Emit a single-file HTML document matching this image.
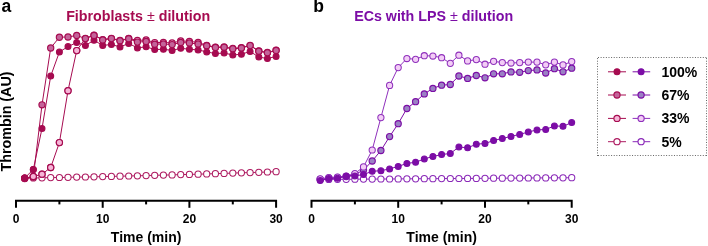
<!DOCTYPE html>
<html><head><meta charset="utf-8"><style>
html,body{margin:0;padding:0;background:#fff;width:708px;height:246px;overflow:hidden}
svg{display:block;will-change:transform}
text{font-family:"Liberation Sans",sans-serif;font-weight:bold}
.tk{font-size:12px;fill:#000}
.ax{font-size:14px;fill:#000}
.pl{font-size:17.5px;fill:#000}
.ti{font-size:14.25px}
.lg{font-size:14px;fill:#000}
</style></head><body>
<svg width="708" height="246" viewBox="0 0 708 246">
<path d="M16.0,207.8 V200.8 H276.1 V207.8" fill="none" stroke="#000" stroke-width="2"/>
<line x1="59.4" y1="200.8" x2="59.4" y2="204.4" stroke="#000" stroke-width="2"/><line x1="146.1" y1="200.8" x2="146.1" y2="204.4" stroke="#000" stroke-width="2"/><line x1="232.8" y1="200.8" x2="232.8" y2="204.4" stroke="#000" stroke-width="2"/><line x1="102.7" y1="200.8" x2="102.7" y2="207.8" stroke="#000" stroke-width="2"/><line x1="189.4" y1="200.8" x2="189.4" y2="207.8" stroke="#000" stroke-width="2"/>
<text x="16.0" y="222.6" text-anchor="middle" class="tk">0</text><text x="102.7" y="222.6" text-anchor="middle" class="tk">10</text><text x="189.4" y="222.6" text-anchor="middle" class="tk">20</text><text x="276.1" y="222.6" text-anchor="middle" class="tk">30</text><text x="146.1" y="241.6" text-anchor="middle" class="ax">Time (min)</text>
<path d="M311.5,207.8 V200.8 H571.7 V207.8" fill="none" stroke="#000" stroke-width="2"/>
<line x1="354.9" y1="200.8" x2="354.9" y2="204.4" stroke="#000" stroke-width="2"/><line x1="441.6" y1="200.8" x2="441.6" y2="204.4" stroke="#000" stroke-width="2"/><line x1="528.3" y1="200.8" x2="528.3" y2="204.4" stroke="#000" stroke-width="2"/><line x1="398.2" y1="200.8" x2="398.2" y2="207.8" stroke="#000" stroke-width="2"/><line x1="485.0" y1="200.8" x2="485.0" y2="207.8" stroke="#000" stroke-width="2"/>
<text x="311.5" y="222.6" text-anchor="middle" class="tk">0</text><text x="398.2" y="222.6" text-anchor="middle" class="tk">10</text><text x="485.0" y="222.6" text-anchor="middle" class="tk">20</text><text x="571.7" y="222.6" text-anchor="middle" class="tk">30</text><text x="441.6" y="241.6" text-anchor="middle" class="ax">Time (min)</text>
<text x="1.6" y="11.6" class="pl">a</text><text x="313.2" y="11.8" class="pl">b</text><text x="138.15" y="20.8" text-anchor="middle" class="ti" fill="#a60b50">Fibroblasts <tspan font-weight="normal">±</tspan> dilution</text><text x="433.65" y="20.9" text-anchor="middle" class="ti" fill="#7c0da6">ECs with LPS <tspan font-weight="normal">±</tspan> dilution</text><text transform="translate(10.7,121.5) rotate(-90)" text-anchor="middle" class="ax" style="font-size:14.3px">Thrombin (AU)</text><polyline points="24.7,178.1 33.3,178.0 42.0,177.8 50.7,177.6 59.4,177.5 68.0,177.3 76.7,177.1 85.4,177.0 94.0,176.8 102.7,176.6 111.4,176.4 120.0,176.2 128.7,176.0 137.4,175.8 146.1,175.6 154.7,175.3 163.4,175.1 172.1,174.9 180.7,174.6 189.4,174.4 198.1,174.2 206.7,173.9 215.4,173.7 224.1,173.4 232.8,173.1 241.4,172.8 250.1,172.6 258.8,172.3 267.4,172.0 276.1,171.7" fill="none" stroke="#ad1a60" stroke-width="1.0"/>
<circle cx="24.7" cy="178.1" r="3.1" fill="#fff" stroke="#ad1a60" stroke-width="1.05"/><circle cx="33.3" cy="178.0" r="3.1" fill="#fff" stroke="#ad1a60" stroke-width="1.05"/><circle cx="42.0" cy="177.8" r="3.1" fill="#fff" stroke="#ad1a60" stroke-width="1.05"/><circle cx="50.7" cy="177.6" r="3.1" fill="#fff" stroke="#ad1a60" stroke-width="1.05"/><circle cx="59.4" cy="177.5" r="3.1" fill="#fff" stroke="#ad1a60" stroke-width="1.05"/><circle cx="68.0" cy="177.3" r="3.1" fill="#fff" stroke="#ad1a60" stroke-width="1.05"/><circle cx="76.7" cy="177.1" r="3.1" fill="#fff" stroke="#ad1a60" stroke-width="1.05"/><circle cx="85.4" cy="177.0" r="3.1" fill="#fff" stroke="#ad1a60" stroke-width="1.05"/><circle cx="94.0" cy="176.8" r="3.1" fill="#fff" stroke="#ad1a60" stroke-width="1.05"/><circle cx="102.7" cy="176.6" r="3.1" fill="#fff" stroke="#ad1a60" stroke-width="1.05"/><circle cx="111.4" cy="176.4" r="3.1" fill="#fff" stroke="#ad1a60" stroke-width="1.05"/><circle cx="120.0" cy="176.2" r="3.1" fill="#fff" stroke="#ad1a60" stroke-width="1.05"/><circle cx="128.7" cy="176.0" r="3.1" fill="#fff" stroke="#ad1a60" stroke-width="1.05"/><circle cx="137.4" cy="175.8" r="3.1" fill="#fff" stroke="#ad1a60" stroke-width="1.05"/><circle cx="146.1" cy="175.6" r="3.1" fill="#fff" stroke="#ad1a60" stroke-width="1.05"/><circle cx="154.7" cy="175.3" r="3.1" fill="#fff" stroke="#ad1a60" stroke-width="1.05"/><circle cx="163.4" cy="175.1" r="3.1" fill="#fff" stroke="#ad1a60" stroke-width="1.05"/><circle cx="172.1" cy="174.9" r="3.1" fill="#fff" stroke="#ad1a60" stroke-width="1.05"/><circle cx="180.7" cy="174.6" r="3.1" fill="#fff" stroke="#ad1a60" stroke-width="1.05"/><circle cx="189.4" cy="174.4" r="3.1" fill="#fff" stroke="#ad1a60" stroke-width="1.05"/><circle cx="198.1" cy="174.2" r="3.1" fill="#fff" stroke="#ad1a60" stroke-width="1.05"/><circle cx="206.7" cy="173.9" r="3.1" fill="#fff" stroke="#ad1a60" stroke-width="1.05"/><circle cx="215.4" cy="173.7" r="3.1" fill="#fff" stroke="#ad1a60" stroke-width="1.05"/><circle cx="224.1" cy="173.4" r="3.1" fill="#fff" stroke="#ad1a60" stroke-width="1.05"/><circle cx="232.8" cy="173.1" r="3.1" fill="#fff" stroke="#ad1a60" stroke-width="1.05"/><circle cx="241.4" cy="172.8" r="3.1" fill="#fff" stroke="#ad1a60" stroke-width="1.05"/><circle cx="250.1" cy="172.6" r="3.1" fill="#fff" stroke="#ad1a60" stroke-width="1.05"/><circle cx="258.8" cy="172.3" r="3.1" fill="#fff" stroke="#ad1a60" stroke-width="1.05"/><circle cx="267.4" cy="172.0" r="3.1" fill="#fff" stroke="#ad1a60" stroke-width="1.05"/><circle cx="276.1" cy="171.7" r="3.1" fill="#fff" stroke="#ad1a60" stroke-width="1.05"/>
<polyline points="24.7,178.0 33.3,169.5 42.0,128.5 50.7,76.1 59.4,52.0 68.0,46.6 76.7,42.5 85.4,45.5 94.0,40.2 102.7,45.5 111.4,44.4 120.0,47.0 128.7,43.4 137.4,47.9 146.1,46.8 154.7,49.5 163.4,49.3 172.1,50.4 180.7,48.3 189.4,49.3 198.1,49.9 206.7,51.9 215.4,53.6 224.1,53.0 232.8,55.0 241.4,54.2 250.1,51.5 258.8,57.0 267.4,58.6 276.1,56.4" fill="none" stroke="#a60b50" stroke-width="1.0"/>
<circle cx="24.7" cy="178.0" r="2.95" fill="#a60b50" stroke="#a60b50" stroke-width="1.1"/><circle cx="33.3" cy="169.5" r="2.95" fill="#a60b50" stroke="#a60b50" stroke-width="1.1"/><circle cx="42.0" cy="128.5" r="2.95" fill="#a60b50" stroke="#a60b50" stroke-width="1.1"/><circle cx="50.7" cy="76.1" r="2.95" fill="#a60b50" stroke="#a60b50" stroke-width="1.1"/><circle cx="59.4" cy="52.0" r="2.95" fill="#a60b50" stroke="#a60b50" stroke-width="1.1"/><circle cx="68.0" cy="46.6" r="2.95" fill="#a60b50" stroke="#a60b50" stroke-width="1.1"/><circle cx="76.7" cy="42.5" r="2.95" fill="#a60b50" stroke="#a60b50" stroke-width="1.1"/><circle cx="85.4" cy="45.5" r="2.95" fill="#a60b50" stroke="#a60b50" stroke-width="1.1"/><circle cx="94.0" cy="40.2" r="2.95" fill="#a60b50" stroke="#a60b50" stroke-width="1.1"/><circle cx="102.7" cy="45.5" r="2.95" fill="#a60b50" stroke="#a60b50" stroke-width="1.1"/><circle cx="111.4" cy="44.4" r="2.95" fill="#a60b50" stroke="#a60b50" stroke-width="1.1"/><circle cx="120.0" cy="47.0" r="2.95" fill="#a60b50" stroke="#a60b50" stroke-width="1.1"/><circle cx="128.7" cy="43.4" r="2.95" fill="#a60b50" stroke="#a60b50" stroke-width="1.1"/><circle cx="137.4" cy="47.9" r="2.95" fill="#a60b50" stroke="#a60b50" stroke-width="1.1"/><circle cx="146.1" cy="46.8" r="2.95" fill="#a60b50" stroke="#a60b50" stroke-width="1.1"/><circle cx="154.7" cy="49.5" r="2.95" fill="#a60b50" stroke="#a60b50" stroke-width="1.1"/><circle cx="163.4" cy="49.3" r="2.95" fill="#a60b50" stroke="#a60b50" stroke-width="1.1"/><circle cx="172.1" cy="50.4" r="2.95" fill="#a60b50" stroke="#a60b50" stroke-width="1.1"/><circle cx="180.7" cy="48.3" r="2.95" fill="#a60b50" stroke="#a60b50" stroke-width="1.1"/><circle cx="189.4" cy="49.3" r="2.95" fill="#a60b50" stroke="#a60b50" stroke-width="1.1"/><circle cx="198.1" cy="49.9" r="2.95" fill="#a60b50" stroke="#a60b50" stroke-width="1.1"/><circle cx="206.7" cy="51.9" r="2.95" fill="#a60b50" stroke="#a60b50" stroke-width="1.1"/><circle cx="215.4" cy="53.6" r="2.95" fill="#a60b50" stroke="#a60b50" stroke-width="1.1"/><circle cx="224.1" cy="53.0" r="2.95" fill="#a60b50" stroke="#a60b50" stroke-width="1.1"/><circle cx="232.8" cy="55.0" r="2.95" fill="#a60b50" stroke="#a60b50" stroke-width="1.1"/><circle cx="241.4" cy="54.2" r="2.95" fill="#a60b50" stroke="#a60b50" stroke-width="1.1"/><circle cx="250.1" cy="51.5" r="2.95" fill="#a60b50" stroke="#a60b50" stroke-width="1.1"/><circle cx="258.8" cy="57.0" r="2.95" fill="#a60b50" stroke="#a60b50" stroke-width="1.1"/><circle cx="267.4" cy="58.6" r="2.95" fill="#a60b50" stroke="#a60b50" stroke-width="1.1"/><circle cx="276.1" cy="56.4" r="2.95" fill="#a60b50" stroke="#a60b50" stroke-width="1.1"/>
<polyline points="24.7,178.5 33.3,176.5 42.0,174.2 50.7,167.5 59.4,142.6 68.0,90.7 76.7,50.6 85.4,38.3 94.0,35.1 102.7,39.6 111.4,38.3 120.0,40.4 128.7,38.4 137.4,40.5 146.1,39.9 154.7,42.6 163.4,42.4 172.1,43.0 180.7,40.9 189.4,41.4 198.1,42.4 206.7,45.4 215.4,47.1 224.1,47.0 232.8,48.5 241.4,47.7 250.1,45.3 258.8,50.9 267.4,52.5 276.1,50.2" fill="none" stroke="#a60b50" stroke-width="1.0"/>
<circle cx="24.7" cy="178.5" r="3.1" fill="#f6b5d7" stroke="#a60b50" stroke-width="1.15"/><circle cx="33.3" cy="176.5" r="3.1" fill="#f6b5d7" stroke="#a60b50" stroke-width="1.15"/><circle cx="42.0" cy="174.2" r="3.1" fill="#f6b5d7" stroke="#a60b50" stroke-width="1.15"/><circle cx="50.7" cy="167.5" r="3.1" fill="#f6b5d7" stroke="#a60b50" stroke-width="1.15"/><circle cx="59.4" cy="142.6" r="3.1" fill="#f6b5d7" stroke="#a60b50" stroke-width="1.15"/><circle cx="68.0" cy="90.7" r="3.1" fill="#f6b5d7" stroke="#a60b50" stroke-width="1.15"/><circle cx="76.7" cy="50.6" r="3.1" fill="#f6b5d7" stroke="#a60b50" stroke-width="1.15"/><circle cx="85.4" cy="38.3" r="3.1" fill="#f6b5d7" stroke="#a60b50" stroke-width="1.15"/><circle cx="94.0" cy="35.1" r="3.1" fill="#f6b5d7" stroke="#a60b50" stroke-width="1.15"/><circle cx="102.7" cy="39.6" r="3.1" fill="#f6b5d7" stroke="#a60b50" stroke-width="1.15"/><circle cx="111.4" cy="38.3" r="3.1" fill="#f6b5d7" stroke="#a60b50" stroke-width="1.15"/><circle cx="120.0" cy="40.4" r="3.1" fill="#f6b5d7" stroke="#a60b50" stroke-width="1.15"/><circle cx="128.7" cy="38.4" r="3.1" fill="#f6b5d7" stroke="#a60b50" stroke-width="1.15"/><circle cx="137.4" cy="40.5" r="3.1" fill="#f6b5d7" stroke="#a60b50" stroke-width="1.15"/><circle cx="146.1" cy="39.9" r="3.1" fill="#f6b5d7" stroke="#a60b50" stroke-width="1.15"/><circle cx="154.7" cy="42.6" r="3.1" fill="#f6b5d7" stroke="#a60b50" stroke-width="1.15"/><circle cx="163.4" cy="42.4" r="3.1" fill="#f6b5d7" stroke="#a60b50" stroke-width="1.15"/><circle cx="172.1" cy="43.0" r="3.1" fill="#f6b5d7" stroke="#a60b50" stroke-width="1.15"/><circle cx="180.7" cy="40.9" r="3.1" fill="#f6b5d7" stroke="#a60b50" stroke-width="1.15"/><circle cx="189.4" cy="41.4" r="3.1" fill="#f6b5d7" stroke="#a60b50" stroke-width="1.15"/><circle cx="198.1" cy="42.4" r="3.1" fill="#f6b5d7" stroke="#a60b50" stroke-width="1.15"/><circle cx="206.7" cy="45.4" r="3.1" fill="#f6b5d7" stroke="#a60b50" stroke-width="1.15"/><circle cx="215.4" cy="47.1" r="3.1" fill="#f6b5d7" stroke="#a60b50" stroke-width="1.15"/><circle cx="224.1" cy="47.0" r="3.1" fill="#f6b5d7" stroke="#a60b50" stroke-width="1.15"/><circle cx="232.8" cy="48.5" r="3.1" fill="#f6b5d7" stroke="#a60b50" stroke-width="1.15"/><circle cx="241.4" cy="47.7" r="3.1" fill="#f6b5d7" stroke="#a60b50" stroke-width="1.15"/><circle cx="250.1" cy="45.3" r="3.1" fill="#f6b5d7" stroke="#a60b50" stroke-width="1.15"/><circle cx="258.8" cy="50.9" r="3.1" fill="#f6b5d7" stroke="#a60b50" stroke-width="1.15"/><circle cx="267.4" cy="52.5" r="3.1" fill="#f6b5d7" stroke="#a60b50" stroke-width="1.15"/><circle cx="276.1" cy="50.2" r="3.1" fill="#f6b5d7" stroke="#a60b50" stroke-width="1.15"/>
<polyline points="24.7,178.3 33.3,177.0 42.0,104.8 50.7,48.0 59.4,37.2 68.0,37.0 76.7,35.4 85.4,38.6 94.0,35.4 102.7,39.9 111.4,38.6 120.0,40.7 128.7,38.7 137.4,42.1 146.1,41.5 154.7,44.2 163.4,44.0 172.1,44.6 180.7,42.5 189.4,43.0 198.1,44.0 206.7,45.7 215.4,47.4 224.1,47.3 232.8,48.8 241.4,48.0 250.1,45.6 258.8,51.2 267.4,52.8 276.1,50.5" fill="none" stroke="#a60b50" stroke-width="1.0"/>
<circle cx="24.7" cy="178.3" r="3.1" fill="#c4649a" stroke="#a60b50" stroke-width="1.15"/><circle cx="33.3" cy="177.0" r="3.1" fill="#c4649a" stroke="#a60b50" stroke-width="1.15"/><circle cx="42.0" cy="104.8" r="3.1" fill="#c4649a" stroke="#a60b50" stroke-width="1.15"/><circle cx="50.7" cy="48.0" r="3.1" fill="#c4649a" stroke="#a60b50" stroke-width="1.15"/><circle cx="59.4" cy="37.2" r="3.1" fill="#c4649a" stroke="#a60b50" stroke-width="1.15"/><circle cx="68.0" cy="37.0" r="3.1" fill="#c4649a" stroke="#a60b50" stroke-width="1.15"/><circle cx="76.7" cy="35.4" r="3.1" fill="#c4649a" stroke="#a60b50" stroke-width="1.15"/><circle cx="85.4" cy="38.6" r="3.1" fill="#c4649a" stroke="#a60b50" stroke-width="1.15"/><circle cx="94.0" cy="35.4" r="3.1" fill="#c4649a" stroke="#a60b50" stroke-width="1.15"/><circle cx="102.7" cy="39.9" r="3.1" fill="#c4649a" stroke="#a60b50" stroke-width="1.15"/><circle cx="111.4" cy="38.6" r="3.1" fill="#c4649a" stroke="#a60b50" stroke-width="1.15"/><circle cx="120.0" cy="40.7" r="3.1" fill="#c4649a" stroke="#a60b50" stroke-width="1.15"/><circle cx="128.7" cy="38.7" r="3.1" fill="#c4649a" stroke="#a60b50" stroke-width="1.15"/><circle cx="137.4" cy="42.1" r="3.1" fill="#c4649a" stroke="#a60b50" stroke-width="1.15"/><circle cx="146.1" cy="41.5" r="3.1" fill="#c4649a" stroke="#a60b50" stroke-width="1.15"/><circle cx="154.7" cy="44.2" r="3.1" fill="#c4649a" stroke="#a60b50" stroke-width="1.15"/><circle cx="163.4" cy="44.0" r="3.1" fill="#c4649a" stroke="#a60b50" stroke-width="1.15"/><circle cx="172.1" cy="44.6" r="3.1" fill="#c4649a" stroke="#a60b50" stroke-width="1.15"/><circle cx="180.7" cy="42.5" r="3.1" fill="#c4649a" stroke="#a60b50" stroke-width="1.15"/><circle cx="189.4" cy="43.0" r="3.1" fill="#c4649a" stroke="#a60b50" stroke-width="1.15"/><circle cx="198.1" cy="44.0" r="3.1" fill="#c4649a" stroke="#a60b50" stroke-width="1.15"/><circle cx="206.7" cy="45.7" r="3.1" fill="#c4649a" stroke="#a60b50" stroke-width="1.15"/><circle cx="215.4" cy="47.4" r="3.1" fill="#c4649a" stroke="#a60b50" stroke-width="1.15"/><circle cx="224.1" cy="47.3" r="3.1" fill="#c4649a" stroke="#a60b50" stroke-width="1.15"/><circle cx="232.8" cy="48.8" r="3.1" fill="#c4649a" stroke="#a60b50" stroke-width="1.15"/><circle cx="241.4" cy="48.0" r="3.1" fill="#c4649a" stroke="#a60b50" stroke-width="1.15"/><circle cx="250.1" cy="45.6" r="3.1" fill="#c4649a" stroke="#a60b50" stroke-width="1.15"/><circle cx="258.8" cy="51.2" r="3.1" fill="#c4649a" stroke="#a60b50" stroke-width="1.15"/><circle cx="267.4" cy="52.8" r="3.1" fill="#c4649a" stroke="#a60b50" stroke-width="1.15"/><circle cx="276.1" cy="50.5" r="3.1" fill="#c4649a" stroke="#a60b50" stroke-width="1.15"/>
<circle cx="24.7" cy="178.0" r="2.95" fill="#a60b50" stroke="#a60b50" stroke-width="1.1"/><circle cx="33.3" cy="169.5" r="2.95" fill="#a60b50" stroke="#a60b50" stroke-width="1.1"/><circle cx="33.3" cy="176.5" r="3.1" fill="#f6b5d7" stroke="#a60b50" stroke-width="1.15"/><circle cx="42.0" cy="174.2" r="3.1" fill="#f6b5d7" stroke="#a60b50" stroke-width="1.15"/><circle cx="50.7" cy="167.5" r="3.1" fill="#f6b5d7" stroke="#a60b50" stroke-width="1.15"/><circle cx="59.4" cy="142.6" r="3.1" fill="#f6b5d7" stroke="#a60b50" stroke-width="1.15"/><circle cx="68.0" cy="90.7" r="3.1" fill="#f6b5d7" stroke="#a60b50" stroke-width="1.15"/><circle cx="76.7" cy="50.6" r="3.1" fill="#f6b5d7" stroke="#a60b50" stroke-width="1.15"/>
<polyline points="320.2,179.4 328.8,179.4 337.5,179.3 346.2,179.3 354.9,179.2 363.5,179.1 372.2,179.1 380.9,179.0 389.6,179.0 398.2,178.9 406.9,178.8 415.6,178.8 424.3,178.7 432.9,178.7 441.6,178.6 450.3,178.5 458.9,178.5 467.6,178.4 476.3,178.4 485.0,178.3 493.6,178.2 502.3,178.2 511.0,178.1 519.7,178.1 528.3,178.0 537.0,177.9 545.7,177.9 554.4,177.8 563.0,177.8 571.7,177.7" fill="none" stroke="#8a28b8" stroke-width="1.0"/>
<circle cx="320.2" cy="179.4" r="3.1" fill="#fff" stroke="#8a28b8" stroke-width="1.05"/><circle cx="328.8" cy="179.4" r="3.1" fill="#fff" stroke="#8a28b8" stroke-width="1.05"/><circle cx="337.5" cy="179.3" r="3.1" fill="#fff" stroke="#8a28b8" stroke-width="1.05"/><circle cx="346.2" cy="179.3" r="3.1" fill="#fff" stroke="#8a28b8" stroke-width="1.05"/><circle cx="354.9" cy="179.2" r="3.1" fill="#fff" stroke="#8a28b8" stroke-width="1.05"/><circle cx="363.5" cy="179.1" r="3.1" fill="#fff" stroke="#8a28b8" stroke-width="1.05"/><circle cx="372.2" cy="179.1" r="3.1" fill="#fff" stroke="#8a28b8" stroke-width="1.05"/><circle cx="380.9" cy="179.0" r="3.1" fill="#fff" stroke="#8a28b8" stroke-width="1.05"/><circle cx="389.6" cy="179.0" r="3.1" fill="#fff" stroke="#8a28b8" stroke-width="1.05"/><circle cx="398.2" cy="178.9" r="3.1" fill="#fff" stroke="#8a28b8" stroke-width="1.05"/><circle cx="406.9" cy="178.8" r="3.1" fill="#fff" stroke="#8a28b8" stroke-width="1.05"/><circle cx="415.6" cy="178.8" r="3.1" fill="#fff" stroke="#8a28b8" stroke-width="1.05"/><circle cx="424.3" cy="178.7" r="3.1" fill="#fff" stroke="#8a28b8" stroke-width="1.05"/><circle cx="432.9" cy="178.7" r="3.1" fill="#fff" stroke="#8a28b8" stroke-width="1.05"/><circle cx="441.6" cy="178.6" r="3.1" fill="#fff" stroke="#8a28b8" stroke-width="1.05"/><circle cx="450.3" cy="178.5" r="3.1" fill="#fff" stroke="#8a28b8" stroke-width="1.05"/><circle cx="458.9" cy="178.5" r="3.1" fill="#fff" stroke="#8a28b8" stroke-width="1.05"/><circle cx="467.6" cy="178.4" r="3.1" fill="#fff" stroke="#8a28b8" stroke-width="1.05"/><circle cx="476.3" cy="178.4" r="3.1" fill="#fff" stroke="#8a28b8" stroke-width="1.05"/><circle cx="485.0" cy="178.3" r="3.1" fill="#fff" stroke="#8a28b8" stroke-width="1.05"/><circle cx="493.6" cy="178.2" r="3.1" fill="#fff" stroke="#8a28b8" stroke-width="1.05"/><circle cx="502.3" cy="178.2" r="3.1" fill="#fff" stroke="#8a28b8" stroke-width="1.05"/><circle cx="511.0" cy="178.1" r="3.1" fill="#fff" stroke="#8a28b8" stroke-width="1.05"/><circle cx="519.7" cy="178.1" r="3.1" fill="#fff" stroke="#8a28b8" stroke-width="1.05"/><circle cx="528.3" cy="178.0" r="3.1" fill="#fff" stroke="#8a28b8" stroke-width="1.05"/><circle cx="537.0" cy="177.9" r="3.1" fill="#fff" stroke="#8a28b8" stroke-width="1.05"/><circle cx="545.7" cy="177.9" r="3.1" fill="#fff" stroke="#8a28b8" stroke-width="1.05"/><circle cx="554.4" cy="177.8" r="3.1" fill="#fff" stroke="#8a28b8" stroke-width="1.05"/><circle cx="563.0" cy="177.8" r="3.1" fill="#fff" stroke="#8a28b8" stroke-width="1.05"/><circle cx="571.7" cy="177.7" r="3.1" fill="#fff" stroke="#8a28b8" stroke-width="1.05"/>
<polyline points="320.2,179.5 328.8,178.0 337.5,177.5 346.2,176.5 354.9,174.5 363.5,170.1 372.2,161.0 380.9,150.5 389.6,136.6 398.2,123.7 406.9,108.5 415.6,101.7 424.3,93.9 432.9,88.4 441.6,85.2 450.3,84.5 458.9,76.0 467.6,78.4 476.3,75.5 485.0,77.8 493.6,73.8 502.3,73.8 511.0,71.9 519.7,72.3 528.3,70.6 537.0,69.9 545.7,73.0 554.4,68.7 563.0,71.8 571.7,68.2" fill="none" stroke="#7c0da6" stroke-width="1.0"/>
<circle cx="320.2" cy="179.5" r="3.1" fill="#9b80c4" stroke="#7c0da6" stroke-width="1.15"/><circle cx="328.8" cy="178.0" r="3.1" fill="#9b80c4" stroke="#7c0da6" stroke-width="1.15"/><circle cx="337.5" cy="177.5" r="3.1" fill="#9b80c4" stroke="#7c0da6" stroke-width="1.15"/><circle cx="346.2" cy="176.5" r="3.1" fill="#9b80c4" stroke="#7c0da6" stroke-width="1.15"/><circle cx="354.9" cy="174.5" r="3.1" fill="#9b80c4" stroke="#7c0da6" stroke-width="1.15"/><circle cx="363.5" cy="170.1" r="3.1" fill="#9b80c4" stroke="#7c0da6" stroke-width="1.15"/><circle cx="372.2" cy="161.0" r="3.1" fill="#9b80c4" stroke="#7c0da6" stroke-width="1.15"/><circle cx="380.9" cy="150.5" r="3.1" fill="#9b80c4" stroke="#7c0da6" stroke-width="1.15"/><circle cx="389.6" cy="136.6" r="3.1" fill="#9b80c4" stroke="#7c0da6" stroke-width="1.15"/><circle cx="398.2" cy="123.7" r="3.1" fill="#9b80c4" stroke="#7c0da6" stroke-width="1.15"/><circle cx="406.9" cy="108.5" r="3.1" fill="#9b80c4" stroke="#7c0da6" stroke-width="1.15"/><circle cx="415.6" cy="101.7" r="3.1" fill="#9b80c4" stroke="#7c0da6" stroke-width="1.15"/><circle cx="424.3" cy="93.9" r="3.1" fill="#9b80c4" stroke="#7c0da6" stroke-width="1.15"/><circle cx="432.9" cy="88.4" r="3.1" fill="#9b80c4" stroke="#7c0da6" stroke-width="1.15"/><circle cx="441.6" cy="85.2" r="3.1" fill="#9b80c4" stroke="#7c0da6" stroke-width="1.15"/><circle cx="450.3" cy="84.5" r="3.1" fill="#9b80c4" stroke="#7c0da6" stroke-width="1.15"/><circle cx="458.9" cy="76.0" r="3.1" fill="#9b80c4" stroke="#7c0da6" stroke-width="1.15"/><circle cx="467.6" cy="78.4" r="3.1" fill="#9b80c4" stroke="#7c0da6" stroke-width="1.15"/><circle cx="476.3" cy="75.5" r="3.1" fill="#9b80c4" stroke="#7c0da6" stroke-width="1.15"/><circle cx="485.0" cy="77.8" r="3.1" fill="#9b80c4" stroke="#7c0da6" stroke-width="1.15"/><circle cx="493.6" cy="73.8" r="3.1" fill="#9b80c4" stroke="#7c0da6" stroke-width="1.15"/><circle cx="502.3" cy="73.8" r="3.1" fill="#9b80c4" stroke="#7c0da6" stroke-width="1.15"/><circle cx="511.0" cy="71.9" r="3.1" fill="#9b80c4" stroke="#7c0da6" stroke-width="1.15"/><circle cx="519.7" cy="72.3" r="3.1" fill="#9b80c4" stroke="#7c0da6" stroke-width="1.15"/><circle cx="528.3" cy="70.6" r="3.1" fill="#9b80c4" stroke="#7c0da6" stroke-width="1.15"/><circle cx="537.0" cy="69.9" r="3.1" fill="#9b80c4" stroke="#7c0da6" stroke-width="1.15"/><circle cx="545.7" cy="73.0" r="3.1" fill="#9b80c4" stroke="#7c0da6" stroke-width="1.15"/><circle cx="554.4" cy="68.7" r="3.1" fill="#9b80c4" stroke="#7c0da6" stroke-width="1.15"/><circle cx="563.0" cy="71.8" r="3.1" fill="#9b80c4" stroke="#7c0da6" stroke-width="1.15"/><circle cx="571.7" cy="68.2" r="3.1" fill="#9b80c4" stroke="#7c0da6" stroke-width="1.15"/>
<polyline points="320.2,178.8 328.8,177.5 337.5,177.0 346.2,176.0 354.9,173.5 363.5,166.9 372.2,150.0 380.9,117.6 389.6,85.4 398.2,67.6 406.9,58.5 415.6,59.3 424.3,55.7 432.9,56.0 441.6,57.7 450.3,63.3 458.9,55.2 467.6,60.9 476.3,59.6 485.0,64.2 493.6,61.3 502.3,62.6 511.0,63.0 519.7,62.6 528.3,62.1 537.0,62.1 545.7,64.8 554.4,62.1 563.0,64.9 571.7,61.6" fill="none" stroke="#8f30bc" stroke-width="1.0"/>
<circle cx="320.2" cy="178.8" r="3.1" fill="#f3cdf6" stroke="#8f30bc" stroke-width="1.05"/><circle cx="328.8" cy="177.5" r="3.1" fill="#f3cdf6" stroke="#8f30bc" stroke-width="1.05"/><circle cx="337.5" cy="177.0" r="3.1" fill="#f3cdf6" stroke="#8f30bc" stroke-width="1.05"/><circle cx="346.2" cy="176.0" r="3.1" fill="#f3cdf6" stroke="#8f30bc" stroke-width="1.05"/><circle cx="354.9" cy="173.5" r="3.1" fill="#f3cdf6" stroke="#8f30bc" stroke-width="1.05"/><circle cx="363.5" cy="166.9" r="3.1" fill="#f3cdf6" stroke="#8f30bc" stroke-width="1.05"/><circle cx="372.2" cy="150.0" r="3.1" fill="#f3cdf6" stroke="#8f30bc" stroke-width="1.05"/><circle cx="380.9" cy="117.6" r="3.1" fill="#f3cdf6" stroke="#8f30bc" stroke-width="1.05"/><circle cx="389.6" cy="85.4" r="3.1" fill="#f3cdf6" stroke="#8f30bc" stroke-width="1.05"/><circle cx="398.2" cy="67.6" r="3.1" fill="#f3cdf6" stroke="#8f30bc" stroke-width="1.05"/><circle cx="406.9" cy="58.5" r="3.1" fill="#f3cdf6" stroke="#8f30bc" stroke-width="1.05"/><circle cx="415.6" cy="59.3" r="3.1" fill="#f3cdf6" stroke="#8f30bc" stroke-width="1.05"/><circle cx="424.3" cy="55.7" r="3.1" fill="#f3cdf6" stroke="#8f30bc" stroke-width="1.05"/><circle cx="432.9" cy="56.0" r="3.1" fill="#f3cdf6" stroke="#8f30bc" stroke-width="1.05"/><circle cx="441.6" cy="57.7" r="3.1" fill="#f3cdf6" stroke="#8f30bc" stroke-width="1.05"/><circle cx="450.3" cy="63.3" r="3.1" fill="#f3cdf6" stroke="#8f30bc" stroke-width="1.05"/><circle cx="458.9" cy="55.2" r="3.1" fill="#f3cdf6" stroke="#8f30bc" stroke-width="1.05"/><circle cx="467.6" cy="60.9" r="3.1" fill="#f3cdf6" stroke="#8f30bc" stroke-width="1.05"/><circle cx="476.3" cy="59.6" r="3.1" fill="#f3cdf6" stroke="#8f30bc" stroke-width="1.05"/><circle cx="485.0" cy="64.2" r="3.1" fill="#f3cdf6" stroke="#8f30bc" stroke-width="1.05"/><circle cx="493.6" cy="61.3" r="3.1" fill="#f3cdf6" stroke="#8f30bc" stroke-width="1.05"/><circle cx="502.3" cy="62.6" r="3.1" fill="#f3cdf6" stroke="#8f30bc" stroke-width="1.05"/><circle cx="511.0" cy="63.0" r="3.1" fill="#f3cdf6" stroke="#8f30bc" stroke-width="1.05"/><circle cx="519.7" cy="62.6" r="3.1" fill="#f3cdf6" stroke="#8f30bc" stroke-width="1.05"/><circle cx="528.3" cy="62.1" r="3.1" fill="#f3cdf6" stroke="#8f30bc" stroke-width="1.05"/><circle cx="537.0" cy="62.1" r="3.1" fill="#f3cdf6" stroke="#8f30bc" stroke-width="1.05"/><circle cx="545.7" cy="64.8" r="3.1" fill="#f3cdf6" stroke="#8f30bc" stroke-width="1.05"/><circle cx="554.4" cy="62.1" r="3.1" fill="#f3cdf6" stroke="#8f30bc" stroke-width="1.05"/><circle cx="563.0" cy="64.9" r="3.1" fill="#f3cdf6" stroke="#8f30bc" stroke-width="1.05"/><circle cx="571.7" cy="61.6" r="3.1" fill="#f3cdf6" stroke="#8f30bc" stroke-width="1.05"/>
<polyline points="320.2,180.6 328.8,178.6 337.5,178.2 346.2,176.3 354.9,175.9 363.5,174.5 372.2,171.3 380.9,170.7 389.6,168.9 398.2,166.4 406.9,163.4 415.6,162.3 424.3,158.9 432.9,156.5 441.6,154.5 450.3,153.5 458.9,147.0 467.6,147.8 476.3,144.2 485.0,143.5 493.6,140.5 502.3,138.5 511.0,136.4 519.7,134.4 528.3,132.0 537.0,129.9 545.7,129.5 554.4,125.9 563.0,126.3 571.7,122.6" fill="none" stroke="#7c0da6" stroke-width="1.0"/>
<circle cx="320.2" cy="180.6" r="2.95" fill="#7c0da6" stroke="#7c0da6" stroke-width="1.1"/><circle cx="328.8" cy="178.6" r="2.95" fill="#7c0da6" stroke="#7c0da6" stroke-width="1.1"/><circle cx="337.5" cy="178.2" r="2.95" fill="#7c0da6" stroke="#7c0da6" stroke-width="1.1"/><circle cx="346.2" cy="176.3" r="2.95" fill="#7c0da6" stroke="#7c0da6" stroke-width="1.1"/><circle cx="354.9" cy="175.9" r="2.95" fill="#7c0da6" stroke="#7c0da6" stroke-width="1.1"/><circle cx="363.5" cy="174.5" r="2.95" fill="#7c0da6" stroke="#7c0da6" stroke-width="1.1"/><circle cx="372.2" cy="171.3" r="2.95" fill="#7c0da6" stroke="#7c0da6" stroke-width="1.1"/><circle cx="380.9" cy="170.7" r="2.95" fill="#7c0da6" stroke="#7c0da6" stroke-width="1.1"/><circle cx="389.6" cy="168.9" r="2.95" fill="#7c0da6" stroke="#7c0da6" stroke-width="1.1"/><circle cx="398.2" cy="166.4" r="2.95" fill="#7c0da6" stroke="#7c0da6" stroke-width="1.1"/><circle cx="406.9" cy="163.4" r="2.95" fill="#7c0da6" stroke="#7c0da6" stroke-width="1.1"/><circle cx="415.6" cy="162.3" r="2.95" fill="#7c0da6" stroke="#7c0da6" stroke-width="1.1"/><circle cx="424.3" cy="158.9" r="2.95" fill="#7c0da6" stroke="#7c0da6" stroke-width="1.1"/><circle cx="432.9" cy="156.5" r="2.95" fill="#7c0da6" stroke="#7c0da6" stroke-width="1.1"/><circle cx="441.6" cy="154.5" r="2.95" fill="#7c0da6" stroke="#7c0da6" stroke-width="1.1"/><circle cx="450.3" cy="153.5" r="2.95" fill="#7c0da6" stroke="#7c0da6" stroke-width="1.1"/><circle cx="458.9" cy="147.0" r="2.95" fill="#7c0da6" stroke="#7c0da6" stroke-width="1.1"/><circle cx="467.6" cy="147.8" r="2.95" fill="#7c0da6" stroke="#7c0da6" stroke-width="1.1"/><circle cx="476.3" cy="144.2" r="2.95" fill="#7c0da6" stroke="#7c0da6" stroke-width="1.1"/><circle cx="485.0" cy="143.5" r="2.95" fill="#7c0da6" stroke="#7c0da6" stroke-width="1.1"/><circle cx="493.6" cy="140.5" r="2.95" fill="#7c0da6" stroke="#7c0da6" stroke-width="1.1"/><circle cx="502.3" cy="138.5" r="2.95" fill="#7c0da6" stroke="#7c0da6" stroke-width="1.1"/><circle cx="511.0" cy="136.4" r="2.95" fill="#7c0da6" stroke="#7c0da6" stroke-width="1.1"/><circle cx="519.7" cy="134.4" r="2.95" fill="#7c0da6" stroke="#7c0da6" stroke-width="1.1"/><circle cx="528.3" cy="132.0" r="2.95" fill="#7c0da6" stroke="#7c0da6" stroke-width="1.1"/><circle cx="537.0" cy="129.9" r="2.95" fill="#7c0da6" stroke="#7c0da6" stroke-width="1.1"/><circle cx="545.7" cy="129.5" r="2.95" fill="#7c0da6" stroke="#7c0da6" stroke-width="1.1"/><circle cx="554.4" cy="125.9" r="2.95" fill="#7c0da6" stroke="#7c0da6" stroke-width="1.1"/><circle cx="563.0" cy="126.3" r="2.95" fill="#7c0da6" stroke="#7c0da6" stroke-width="1.1"/><circle cx="571.7" cy="122.6" r="2.95" fill="#7c0da6" stroke="#7c0da6" stroke-width="1.1"/>
<g stroke="#666" stroke-width="1" stroke-dasharray="1 1.62" fill="none"><path d="M598,57.5 H707"/><path d="M598,155.5 H707"/><path d="M597.5,58.1 V156"/><path d="M706.5,58.1 V156"/></g>
<line x1="608" y1="71.8" x2="626" y2="71.8" stroke="#a60b50" stroke-width="1"/>
<circle cx="617" cy="71.8" r="2.95" fill="#a60b50" stroke="#a60b50" stroke-width="1.1"/>
<line x1="632.6" y1="71.8" x2="650.2" y2="71.8" stroke="#7c0da6" stroke-width="1"/>
<circle cx="641.1" cy="71.8" r="2.95" fill="#7c0da6" stroke="#7c0da6" stroke-width="1.1"/>
<text x="661.5" y="76.8" class="lg">100%</text>
<line x1="608" y1="95.0" x2="626" y2="95.0" stroke="#a60b50" stroke-width="1"/>
<circle cx="617" cy="95.0" r="3.1" fill="#c4649a" stroke="#a60b50" stroke-width="1.15"/>
<line x1="632.6" y1="95.0" x2="650.2" y2="95.0" stroke="#7c0da6" stroke-width="1"/>
<circle cx="641.1" cy="95.0" r="3.1" fill="#9b80c4" stroke="#7c0da6" stroke-width="1.15"/>
<text x="661.5" y="100.0" class="lg">67%</text>
<line x1="608" y1="118.4" x2="626" y2="118.4" stroke="#a60b50" stroke-width="1"/>
<circle cx="617" cy="118.4" r="3.1" fill="#f6b5d7" stroke="#a60b50" stroke-width="1.15"/>
<line x1="632.6" y1="118.4" x2="650.2" y2="118.4" stroke="#8f30bc" stroke-width="1"/>
<circle cx="641.1" cy="118.4" r="3.1" fill="#f3cdf6" stroke="#8f30bc" stroke-width="1.15"/>
<text x="661.5" y="123.4" class="lg">33%</text>
<line x1="608" y1="141.7" x2="626" y2="141.7" stroke="#ad1a60" stroke-width="1"/>
<circle cx="617" cy="141.7" r="3.1" fill="#fff" stroke="#ad1a60" stroke-width="1.15"/>
<line x1="632.6" y1="141.7" x2="650.2" y2="141.7" stroke="#8a28b8" stroke-width="1"/>
<circle cx="641.1" cy="141.7" r="3.1" fill="#fff" stroke="#8a28b8" stroke-width="1.15"/>
<text x="661.5" y="146.6" class="lg">5%</text>
</svg>
</body></html>
